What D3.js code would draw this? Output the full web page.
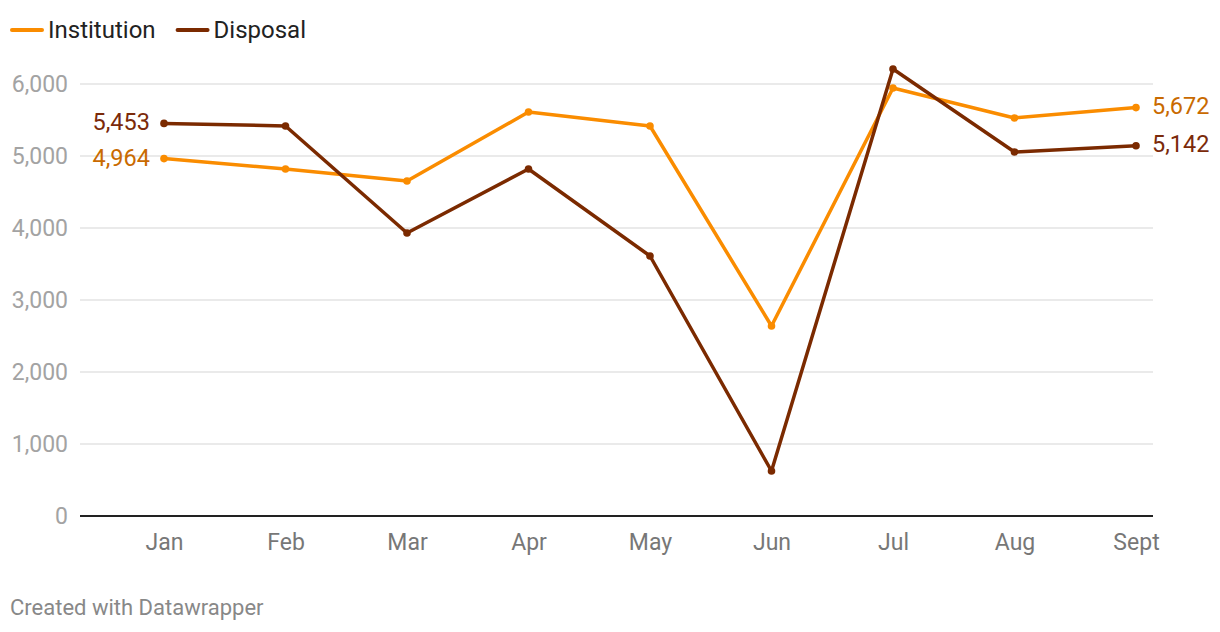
<!DOCTYPE html>
<html>
<head>
<meta charset="utf-8">
<script src="https://cdn.jsdelivr.net/npm/d3@7"></script>
<style>
  body { margin: 0; background: #fff; font-family: Roboto, "Noto Sans", sans-serif; }
</style>
</head>
<body>
<div id="chart"></div>
<script>
// data
var months = ["Jan", "Feb", "Mar", "Apr", "May", "Jun", "Jul", "Aug", "Sept"];
var institution = [4964, 4820, 4653, 5611, 5417, 2639, 5944, 5528, 5672];
var disposal = [5453, 5417, 3931, 4819, 3611, 625, 6208, 5056, 5142];
var yTicks = [0, 1000, 2000, 3000, 4000, 5000, 6000];

var width = 1220, height = 632;
var plotLeft = 80, plotRight = 1153, plotTop = 84, plotBottom = 516;

var series = [
    {name: "Institution", values: institution, color: "#fa8c00", labelColor: "#c96a00"},
    {name: "Disposal", values: disposal, color: "#7b2a00", labelColor: "#7b2a0a"}
];

var svg = d3.select("#chart").append("svg")
    .attr("width", width).attr("height", height);

var x = d3.scalePoint().domain(months).range([164, 1136]);
var y = d3.scaleLinear().domain([0, 6000]).range([plotBottom, plotTop]);

// grid
svg.append("g").selectAll("line").data(yTicks.filter(d => d > 0)).enter().append("line")
    .attr("x1", plotLeft).attr("x2", plotRight)
    .attr("y1", d => y(d)).attr("y2", d => y(d))
    .attr("stroke", "#e3e3e3").attr("stroke-width", 1.5);

// y labels
svg.append("g").selectAll("text").data(yTicks).enter().append("text")
    .attr("x", 68).attr("y", d => y(d) + 8)
    .attr("text-anchor", "end")
    .attr("fill", "#a3a3a3").style("font-size", "23px")
    .text(d => d3.format(",")(d));

// baseline
svg.append("line")
    .attr("x1", plotLeft).attr("x2", plotRight)
    .attr("y1", y(0)).attr("y2", y(0))
    .attr("stroke", "#222").attr("stroke-width", 2);

// x labels
var xAxis = d3.axisBottom(x).tickSize(0).tickPadding(0);
var xg = svg.append("g").attr("transform", "translate(0," + (y(0) + 34) + ")").call(xAxis);
xg.select(".domain").remove();
xg.selectAll("text").attr("fill", "#777").style("font-size", "23px")
    .style("font-family", "Roboto, sans-serif").attr("dy", 0);

var line = d3.line().x((d, i) => x(months[i])).y(d => y(d));

series.forEach(s => {
    svg.append("path").datum(s.values)
        .attr("d", line).attr("fill", "none")
        .attr("stroke", s.color).attr("stroke-width", 3.5)
        .attr("stroke-linejoin", "round");
    svg.append("g").selectAll("circle").data(s.values).enter().append("circle")
        .attr("cx", (d, i) => x(months[i])).attr("cy", d => y(d))
        .attr("r", 3.8).attr("fill", s.color);

    // first and last labels
    var first = s.values[0], last = s.values[s.values.length - 1];
    svg.append("text")
        .attr("x", x(months[0]) - 14).attr("y", y(first) + 7)
        .attr("text-anchor", "end").attr("fill", s.labelColor)
        .style("font-size", "23.5px").text(d3.format(",")(first));
    svg.append("text")
        .attr("x", x(months[months.length - 1]) + 16).attr("y", y(last) + 6)
        .attr("text-anchor", "start").attr("fill", s.labelColor)
        .style("font-size", "23.5px").text(d3.format(",")(last));
});

// legend
var legend = svg.append("g").attr("transform", "translate(12,30)");
var lx = 0;
series.forEach(s => {
    legend.append("line").attr("x1", lx).attr("x2", lx + 30)
        .attr("stroke", s.color).attr("stroke-width", 4).attr("stroke-linecap", "round");
    var t = legend.append("text").attr("x", lx + 36).attr("y", 8)
        .attr("fill", "#222").style("font-size", "24px").text(s.name);
    lx += 36 + t.node().getComputedTextLength() + 22;
});

// footer
svg.append("text").attr("x", 10).attr("y", 615)
    .attr("fill", "#888").style("font-size", "22px")
    .text("Created with Datawrapper");
</script>
</body>
</html>
